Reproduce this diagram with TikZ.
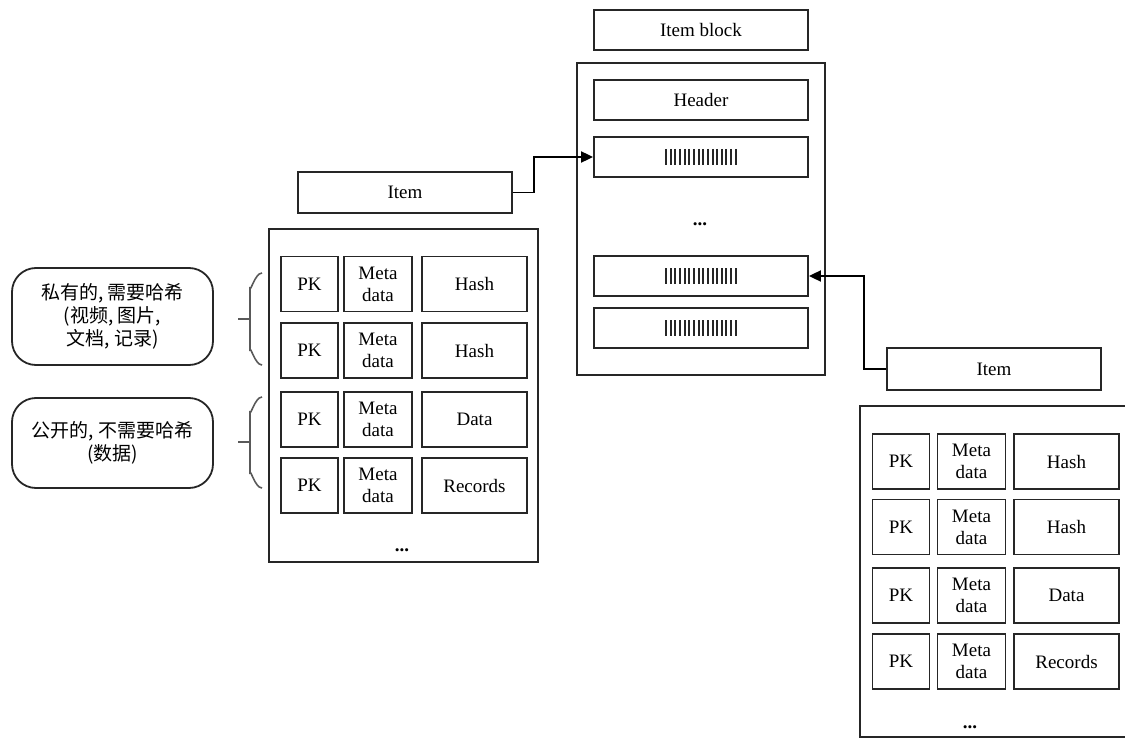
\documentclass[tikz,border=0pt]{standalone}
\usepackage{fontspec}
\setmainfont{Liberation Serif}
\newfontfamily\cjk{Noto Sans CJK SC}
\usetikzlibrary{arrows.meta}
\tikzset{
  box/.style={draw=black!85, line width=0.9pt, inner sep=0pt, font=\fontsize{9.5}{11}\selectfont, align=center},
  pk/.style={box, minimum width=28.5pt, minimum height=27.5pt},
  meta/.style={box, minimum width=34pt, minimum height=27.5pt},
  hash/.style={box, minimum width=52.5pt, minimum height=27.5pt},
  wide/.style={box, minimum width=107pt, minimum height=20pt},
  note/.style={draw=black!85, line width=0.9pt, rounded corners=12pt, minimum width=100.5pt, inner sep=0pt, align=center, font=\cjk\fontsize{9.5}{11.5}\selectfont},
  brace/.style={draw=black!65, line width=0.8pt},
  conn/.style={draw=black, line width=0.9pt, -{Triangle[length=6pt,width=5.5pt]}},
  dots/.style={font=\fontsize{9.5}{11}\selectfont\bfseries, inner sep=0pt},
  bar/.style={line width=1pt, black!85}
}
\begin{document}
\begin{tikzpicture}[x=0.5pt,y=-0.5pt]
\useasboundingbox (0,0) rectangle (1125,738);
\clip (0,0) rectangle (1125,738);

% ---------- Item block ----------
\node[wide] (blabel) at (701,30) {Item block};
\node[box, minimum width=124pt, minimum height=156pt] (bouter) at (701,219) {};
\node[wide] (bhead) at (701,100) {Header};
\node[wide] (b1) at (701,157) {};
\node[dots] (bdots) at (700,224) {...};
\node[wide] (b3) at (701,276) {};
\node[wide] (b4) at (701,328) {};
\foreach \b in {b1,b3,b4}{
  \foreach \k in {0,...,15}{
    \draw[bar] ([xshift={(\k*4.65-35)*0.5pt}, yshift=4pt]\b.center) -- ++(0,16);
  }
}

% ---------- Left item ----------
\node[wide, minimum height=20.5pt] (itemL) at (405,192.5) {Item};
\node[box, minimum width=134.5pt, minimum height=166.5pt] (outerL) at (403.5,395.5) {};
\foreach \r/\y/\t in {1/284/Hash, 2/350.5/Hash, 3/419.5/Data, 4/485.5/Records}{
  \node[pk] (Lpk\r) at (309.5,\y) {PK};
  \node[meta] (Lmeta\r) at (378,\y) {Meta\\data};
  \node[hash] (Lhash\r) at (474.5,\y) {\t};
}
\node[dots] (Ldots) at (402,550) {...};

% ---------- Right item ----------
\node[wide, minimum height=21pt] (itemR) at (994,369) {Item};
\draw[draw=black!85, line width=0.9pt] (1130,406) -- (860,406) -- (860,737) -- (1130,737);
\foreach \r/\y/\t in {1/461.5/Hash, 2/527/Hash, 3/595.5/Data, 4/661.5/Records}{
  \node[pk] (Rpk\r) at (901,\y) {PK};
  \node[meta] (Rmeta\r) at (971.5,\y) {Meta\\data};
  \node[hash] (Rhash\r) at (1066.5,\y) {\t};
}
\node[dots] (Rdots) at (970,727) {...};

% ---------- Connectors ----------
\draw[conn] (itemL.east) -- ++(21,0) |- (b1.west);
\draw[conn] (itemR.west) -- ++(-22,0) |- (b3.east);

% ---------- Notes ----------
\node[note, minimum height=48.5pt] (noteA) at (112.5,316.5) {私有的, 需要哈希\\(视频, 图片,\\文档, 记录)};
\node[note, minimum height=45pt] (noteB) at (112.5,443) {公开的, 不需要哈希\\(数据)};

% ---------- Braces ----------
\draw[brace] (262,273) to[out=180,in=-90] (250,287) -- (250,351) to[out=90,in=180] (262,365);
\draw[brace] (250,319) -- (238,319);
\draw[brace] (262,397) to[out=180,in=-90] (250,411) -- (250,474) to[out=90,in=180] (262,488);
\draw[brace] (250,442) -- (238,442);
\end{tikzpicture}
\end{document}
